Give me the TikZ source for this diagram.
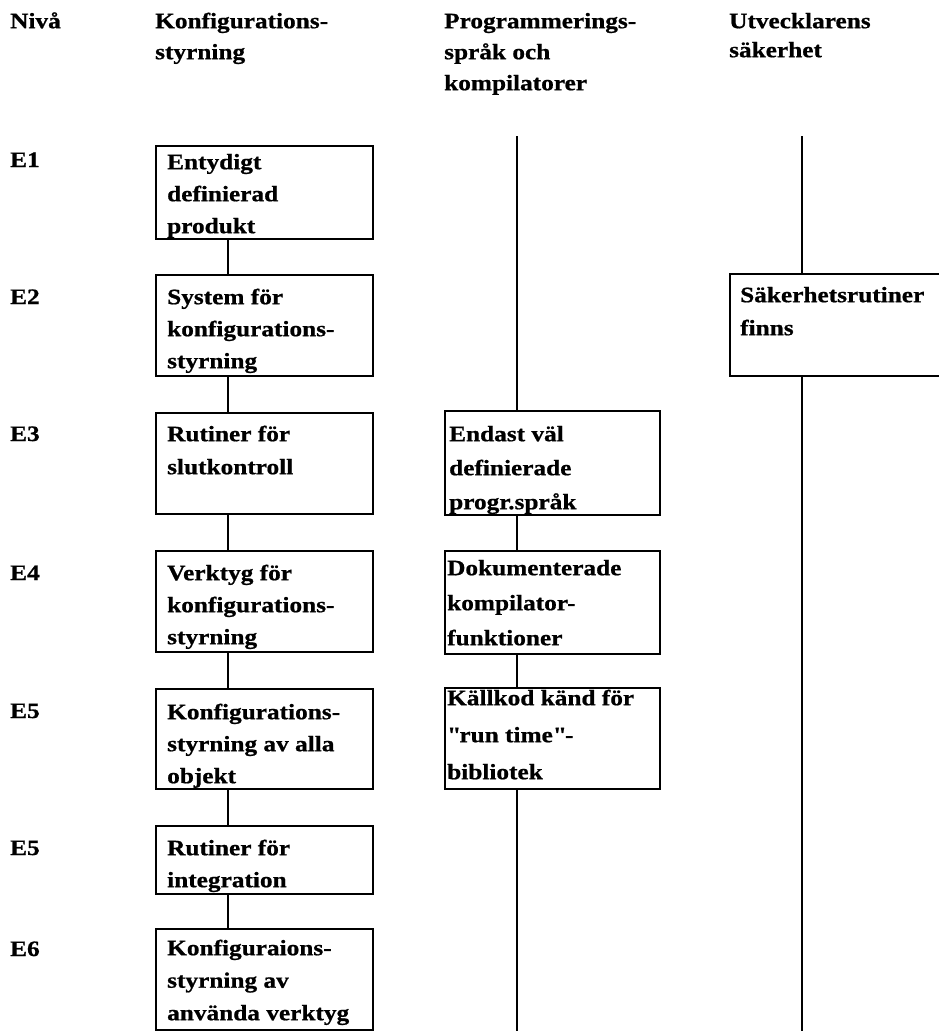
\documentclass[tikz,border=0pt]{standalone}
\usepackage{fontspec}
\setmainfont{Liberation Serif}[FakeStretch=1.15,BoldFeatures={FakeBold=0.8}]
\newcommand\tstrut{\rule{0pt}{20pt}}
\newcommand\bfs[1]{\fontsize{22}{#1}\selectfont\bfseries}
\newcommand\sq{\XeTeXglyph\XeTeXcharglyph"22\relax}
\begin{document}
\begin{tikzpicture}[x=1pt,y=-1pt,
  box/.style={draw, line width=1.6pt, rectangle, inner sep=0pt, anchor=north west},
  txt/.style={anchor=north west, inner sep=0pt, align=left, font=\bfs{#1}},
  txt/.default=33,
  lvl/.style={anchor=base west, inner sep=0pt, font=\bfs{22}},
  conn/.style={line width=1.6pt}]
\useasboundingbox (0,0) rectangle (938,1031);
% headers
\node[txt=31] (h0) at (10,8) {\tstrut Nivå};
\node[txt=31] (h1) at (155,8) {\tstrut Konfigurations-\\styrning};
\node[txt=31] (h2) at (444,8) {\tstrut Programmerings-\\språk och\\kompilatorer};
\node[txt=29] (h3) at (729,8) {\tstrut Utvecklarens\\säkerhet};
% level labels
\node[lvl] (l1) at (10,167) {E1};
\node[lvl] (l2) at (10,304) {E2};
\node[lvl] (l3) at (10,441) {E3};
\node[lvl] (l4) at (10,580) {E4};
\node[lvl] (l5) at (10,718) {E5};
\node[lvl] (l5b) at (10,855) {E5};
\node[lvl] (l6) at (10,956) {E6};
% column 1 boxes
\node[box, minimum width=217pt, minimum height=93pt] (k1) at (155,145) {};
\node[box, minimum width=217pt, minimum height=101pt] (k2) at (155,274) {};
\node[box, minimum width=217pt, minimum height=101pt] (k3) at (155,412) {};
\node[box, minimum width=217pt, minimum height=101pt] (k4) at (155,550) {};
\node[box, minimum width=217pt, minimum height=100pt] (k5) at (155,688) {};
\node[box, minimum width=217pt, minimum height=68pt] (k5b) at (155,825) {};
\node[box, minimum width=217pt, minimum height=101pt] (k6) at (155,928) {};
\node[txt=32] (k1t) at ([shift={(12,4)}]k1.north west) {\tstrut Entydigt\\definierad\\produkt};
\node[txt=32] (k2t) at ([shift={(12,10)}]k2.north west) {\tstrut System för\\konfigurations-\\styrning};
\node[txt=33] (k3t) at ([shift={(12,9)}]k3.north west) {\tstrut Rutiner för\\slutkontroll};
\node[txt=32] (k4t) at ([shift={(12,10)}]k4.north west) {\tstrut Verktyg för\\konfigurations-\\styrning};
\node[txt=32] (k5t) at ([shift={(12,11)}]k5.north west) {\tstrut Konfigurations-\\styrning av alla\\objekt};
\node[txt=32] (k5bt) at ([shift={(12,10)}]k5b.north west) {\tstrut Rutiner för\\integration};
\node[txt=32.5] (k6t) at ([shift={(12,7)}]k6.north west) {\tstrut Konfiguraions-\\styrning av\\använda verktyg};
% column 2 boxes
\node[box, minimum width=215pt, minimum height=104pt] (p3) at (444,410) {};
\node[box, minimum width=215pt, minimum height=103pt] (p4) at (444,550) {};
\node[box, minimum width=215pt, minimum height=101pt] (p5) at (444,687) {};
\node[txt=34] (p3t) at ([shift={(5,11)}]p3.north west) {\tstrut Endast väl\\definierade\\progr.språk};
\node[txt=35] (p4t) at ([shift={(3,5)}]p4.north west) {\tstrut Dokumenterade\\kompilator-\\funktioner};
\node[txt=37] (p5t) at ([shift={(3,-2)}]p5.north west) {\tstrut Källkod känd för\\\sq run time\sq-\\bibliotek};
% column 3 box
\node[box, minimum width=240pt, minimum height=102pt] (s2) at (729,273) {};
\node[txt=33] (s2t) at ([shift={(11,9)}]s2.north west) {\tstrut Säkerhetsrutiner\\finns};
% free ends
\coordinate (ptop) at (517,136);
\coordinate (pbot) at (517,1031);
\coordinate (stop) at (802,136);
\coordinate (sbot) at (802,1031);
% connectors column 1
\foreach \a/\b in {k1/k2,k2/k3,k3/k4,k4/k5,k5/k5b,k5b/k6}
  \draw[conn] ([xshift=73pt]\a.south west) -- ([xshift=73pt]\b.north west);
% connectors column 2
\draw[conn] (ptop) -- ([xshift=73pt]p3.north west);
\draw[conn] ([xshift=73pt]p3.south west) -- ([xshift=73pt]p4.north west);
\draw[conn] ([xshift=73pt]p4.south west) -- ([xshift=73pt]p5.north west);
\draw[conn] ([xshift=73pt]p5.south west) -- (pbot);
% connectors column 3
\draw[conn] (stop) -- ([xshift=73pt]s2.north west);
\draw[conn] ([xshift=73pt]s2.south west) -- (sbot);
\end{tikzpicture}
\end{document}
